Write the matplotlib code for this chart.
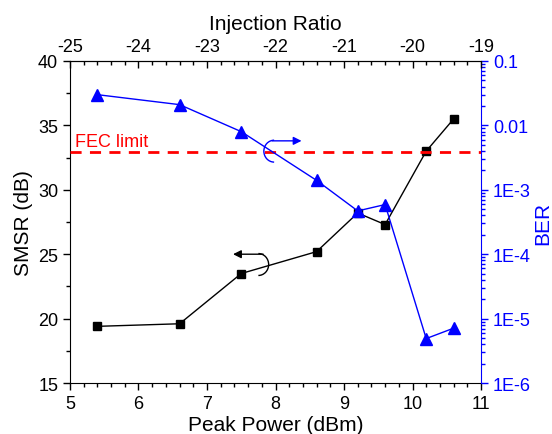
import matplotlib
matplotlib.use("Agg")
import matplotlib.pyplot as plt
from matplotlib.patches import Arc
from matplotlib.ticker import MultipleLocator, LogLocator, FixedLocator

plt.rcParams['font.family'] = ['Liberation Sans', 'DejaVu Sans']
plt.rcParams['axes.unicode_minus'] = False

# data
peak_power = [5.4, 6.6, 7.5, 8.6, 9.2, 9.6, 10.2, 10.6]
smsr = [19.4, 19.6, 23.5, 25.2, 28.2, 27.3, 33.0, 35.5]
ber = [3.0e-2, 2.1e-2, 8.0e-3, 1.4e-3, 4.7e-4, 5.9e-4, 4.9e-6, 7.1e-6]
fec_limit = 3.8e-3
injection_ticks = [-25, -24, -23, -22, -21, -20, -19]
ber_ticks = [1e-6, 1e-5, 1e-4, 1e-3, 1e-2, 1e-1]
ber_labels = ["1E-6", "1E-5", "1E-4", "1E-3", "0.01", "0.1"]

blue = "#0000ff"

fig = plt.figure(figsize=(5.52, 4.35), dpi=100)
ax1 = fig.add_axes([0.1268, 0.1172, 0.7446, 0.7403])
ax1.plot(peak_power, smsr, color="black", lw=1, marker="s", ms=6, zorder=3)
ax1.set_xlim(5, 11)
ax1.set_ylim(15, 40)
ax1.xaxis.set_major_locator(MultipleLocator(1))
ax1.xaxis.set_minor_locator(MultipleLocator(0.2))
ax1.yaxis.set_major_locator(MultipleLocator(5))
ax1.yaxis.set_minor_locator(MultipleLocator(2.5))
ax1.tick_params(which="both", direction="out", labelsize=13, width=1)
ax1.tick_params(which="major", length=5)
ax1.tick_params(which="minor", length=3)
ax1.set_xlabel("Peak Power (dBm)", fontsize=15, labelpad=2)
ax1.set_ylabel("SMSR (dB)", fontsize=15, labelpad=4)
ax1.spines["right"].set_visible(False)

# black arrow: SMSR -> left axis
ax1.annotate("", xy=(7.38, 25.0), xytext=(7.82, 25.0),
             arrowprops=dict(arrowstyle="-|>", color="black", lw=1,
                             mutation_scale=12, shrinkA=0, shrinkB=0))
ax1.add_patch(Arc((7.75, 24.2), 0.3, 1.7, theta1=-90, theta2=90, color="black", lw=1))

# blue arrow: BER -> right axis
ax1.annotate("", xy=(8.38, 33.8), xytext=(7.95, 33.8),
             arrowprops=dict(arrowstyle="-|>", color=blue, lw=1,
                             mutation_scale=12, shrinkA=0, shrinkB=0))
ax1.add_patch(Arc((7.98, 33.0), 0.3, 1.7, theta1=90, theta2=270, color=blue, lw=1))

ax1.text(5.08, 33.4, "FEC limit", color="red", fontsize=13)

ax2 = ax1.twinx()
ax2.set_yscale("log")
ax2.set_ylim(1e-6, 1e-1)
ax2.plot(peak_power, ber, color=blue, lw=1, marker="^", ms=8, zorder=3)
ax2.axhline(fec_limit, color="red", ls=(0, (4, 3)), lw=2)
ax2.yaxis.set_major_locator(FixedLocator(ber_ticks))
ax2.set_yticklabels(ber_labels)
ax2.yaxis.set_minor_locator(LogLocator(base=10, subs=range(2, 10)))
ax2.yaxis.set_minor_formatter(plt.NullFormatter())
ax2.tick_params(which="both", direction="out", colors=blue, labelsize=13, width=1)
ax2.tick_params(which="major", length=5)
ax2.tick_params(which="minor", length=3)
ax2.spines["right"].set_color(blue)
for s in ["left", "top", "bottom"]:
    ax2.spines[s].set_visible(False)
ax2.set_ylabel("BER", color=blue, fontsize=15, labelpad=2)

ax3 = ax1.twiny()
ax3.set_xlim(-25, -19)
ax3.xaxis.set_major_locator(FixedLocator(injection_ticks))
ax3.xaxis.set_minor_locator(MultipleLocator(0.2))
ax3.tick_params(which="both", direction="in", labelsize=13, width=1, pad=4)
ax3.tick_params(which="major", length=5)
ax3.tick_params(which="minor", length=3)
ax3.set_xlabel("Injection Ratio", fontsize=15, labelpad=7)
for s in ["left", "right", "bottom"]:
    ax3.spines[s].set_visible(False)

fig.savefig("out.png", dpi=100)
